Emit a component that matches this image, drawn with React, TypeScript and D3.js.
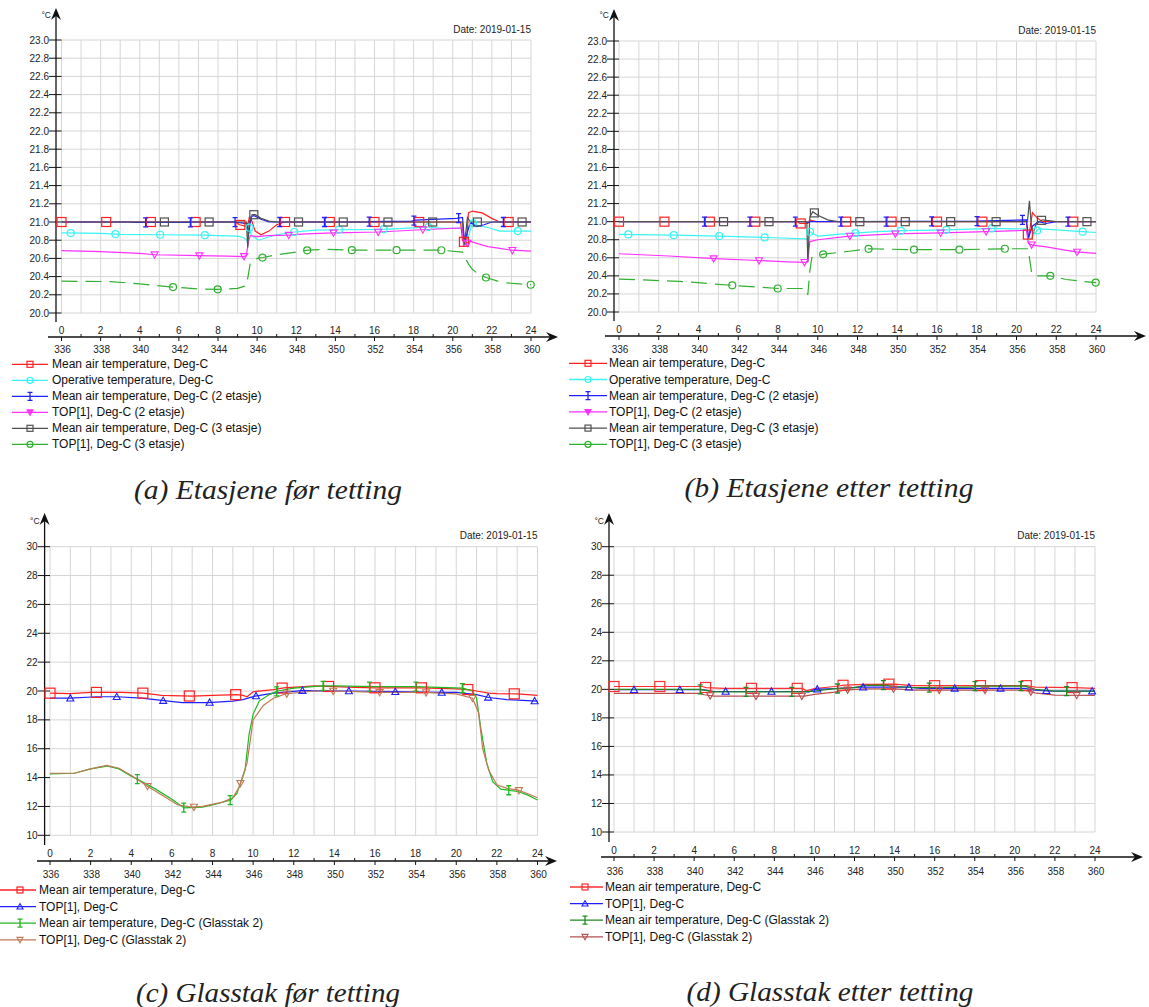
import React from 'react';
import * as d3 from 'd3';

type Pt = [number, number];

// ---------- tick labels ----------
const hourLabels = ['0', '2', '4', '6', '8', '10', '12', '14', '16', '18', '20', '22', '24'];
const absHourLabels = ['336', '338', '340', '342', '344', '346', '348', '350', '352', '354', '356', '358', '360'];
const yTicksAB = ['20.0', '20.2', '20.4', '20.6', '20.8', '21.0', '21.2', '21.4', '21.6', '21.8', '22.0', '22.2', '22.4', '22.6', '22.8', '23.0'];
const yTicksCD = ['10', '12', '14', '16', '18', '20', '22', '24', '26', '28', '30'];
const dateLabel = 'Date: 2019-01-15';

// ---------- panel (a) Etasjene før tetting ----------
const aMeanAir: Pt[] = [[0, 21.0], [8.9, 21.0], [9.1, 20.97], [9.5, 20.95], [9.6, 21.05], [9.7, 21.03], [9.9, 20.9], [10.2, 20.86], [10.6, 20.9], [11.0, 20.97], [11.4, 21.0], [20.4, 21.0], [20.5, 20.8], [20.7, 20.75], [20.8, 21.1], [21.0, 21.12], [21.5, 21.1], [22.0, 21.04], [22.4, 21.0], [24, 21.0]];
const aOperative: Pt[] = [[0, 20.88], [2.0, 20.875], [3.0, 20.865], [5.0, 20.86], [7.3, 20.855], [8.0, 20.85], [9.0, 20.845], [9.3, 20.83], [9.5, 20.79], [9.6, 20.95], [9.7, 20.85], [10.1, 20.8], [10.5, 20.83], [11.0, 20.86], [11.9, 20.89], [13.0, 20.91], [14.2, 20.915], [16.4, 20.92], [17.5, 20.93], [18.7, 20.945], [19.5, 20.93], [20.5, 20.93], [20.6, 20.78], [20.75, 20.8], [21.0, 20.99], [21.3, 20.96], [21.8, 20.94], [22.4, 20.9], [24, 20.9]];
const aMeanAir2: Pt[] = [[0, 21.0], [3.6, 21.0], [3.7, 20.995], [6.6, 20.995], [6.7, 21.0], [8.8, 21.0], [9.2, 20.99], [9.5, 20.98], [9.55, 20.85], [9.7, 21.06], [9.85, 21.07], [10.2, 21.03], [10.6, 21.0], [15.6, 21.0], [15.7, 21.005], [17.9, 21.01], [18.1, 21.02], [20.2, 21.04], [20.5, 21.05], [20.6, 20.78], [20.9, 21.0], [21.2, 20.95], [21.6, 20.97], [22.0, 21.0], [24, 21.0]];
const aTop2: Pt[] = [[0, 20.685], [2.0, 20.675], [4.0, 20.655], [4.8, 20.64], [7.0, 20.63], [8.5, 20.625], [9.3, 20.62], [9.45, 20.63], [9.55, 20.78], [9.65, 20.85], [10.0, 20.84], [10.5, 20.85], [11.6, 20.855], [12.5, 20.87], [13.9, 20.88], [16.2, 20.89], [18.4, 20.915], [20.5, 20.935], [20.55, 20.74], [20.7, 20.76], [20.9, 20.79], [21.3, 20.76], [21.8, 20.73], [22.4, 20.71], [23.0, 20.69], [24, 20.68]];
const aMeanAir3: Pt[] = [[0, 21.0], [9.45, 21.0], [9.52, 20.72], [9.6, 21.0], [9.75, 21.08], [9.9, 21.08], [10.2, 21.04], [10.6, 21.01], [11.0, 21.0], [20.5, 21.0], [20.6, 20.75], [20.75, 21.05], [20.9, 21.0], [24, 21.0]];
const aTop3: Pt[] = [[0, 20.35], [2.5, 20.345], [4.0, 20.32], [5.7, 20.285], [7.0, 20.265], [8.0, 20.26], [9.0, 20.27], [9.45, 20.3], [9.55, 20.42], [9.65, 20.55], [10.0, 20.6], [10.3, 20.61], [11.0, 20.64], [12.0, 20.67], [12.6, 20.69], [13.5, 20.7], [14.8, 20.69], [17.1, 20.69], [19.4, 20.69], [20.5, 20.67], [20.6, 20.62], [20.8, 20.54], [21.0, 20.48], [21.3, 20.43], [21.7, 20.39], [22.3, 20.35], [22.8, 20.33], [24, 20.31]];

// ---------- panel (b) Etasjene etter tetting ----------
const bMeanAir: Pt[] = [[0, 21.0], [9.0, 21.0], [9.1, 20.98], [9.5, 20.98], [9.6, 21.02], [9.9, 21.0], [20.5, 21.0], [20.6, 20.8], [20.7, 20.95], [20.8, 21.1], [21.0, 21.05], [21.3, 21.0], [24, 21.0]];
const bOperative: Pt[] = [[0, 20.86], [2.8, 20.85], [5.0, 20.84], [7.4, 20.825], [9.4, 20.81], [9.5, 20.8], [9.6, 20.89], [9.75, 20.87], [10.0, 20.84], [11.0, 20.86], [12.0, 20.875], [13.0, 20.89], [14.3, 20.9], [16.5, 20.91], [18.8, 20.925], [20.5, 20.92], [20.6, 20.8], [20.75, 20.82], [21.1, 20.92], [22.0, 20.91], [23.3, 20.89], [24, 20.88]];
const bMeanAir2: Pt[] = [[0, 21.0], [9.4, 21.0], [9.5, 20.99], [9.6, 21.0], [11.4, 21.0], [18.0, 21.005], [20.5, 21.02], [20.6, 20.82], [20.8, 20.95], [21.1, 21.0], [21.5, 20.98], [22.0, 21.0], [24, 21.0]];
const bTop2: Pt[] = [[0, 20.645], [2.5, 20.62], [4.8, 20.59], [7.0, 20.57], [8.5, 20.555], [9.4, 20.55], [9.5, 20.56], [9.6, 20.78], [10.0, 20.8], [11.6, 20.84], [13.8, 20.865], [16.2, 20.875], [18.5, 20.89], [20.5, 20.905], [20.6, 20.76], [20.8, 20.74], [21.5, 20.72], [22.3, 20.69], [23.0, 20.665], [24, 20.65]];
const bMeanAir3: Pt[] = [[0, 21.0], [9.45, 21.0], [9.5, 20.55], [9.6, 21.05], [9.75, 21.11], [10.0, 21.07], [10.5, 21.02], [11.0, 21.0], [20.55, 21.0], [20.65, 21.23], [20.75, 20.95], [20.85, 20.88], [21.0, 20.98], [21.3, 21.02], [22.0, 21.0], [24, 21.0]];
const bTop3: Pt[] = [[0, 20.365], [3.0, 20.34], [5.7, 20.295], [8.0, 20.26], [9.4, 20.26], [9.5, 20.19], [9.6, 20.45], [9.7, 20.6], [10.3, 20.64], [11.5, 20.67], [12.6, 20.7], [14.8, 20.69], [17.1, 20.69], [19.4, 20.7], [20.6, 20.7], [20.65, 20.6], [20.75, 20.45], [20.85, 20.4], [21.7, 20.4], [22.5, 20.36], [23.3, 20.34], [24, 20.325]];

// ---------- panel (c) Glasstak før tetting ----------
const cMeanAir: Pt[] = [[0, 19.85], [1.0, 19.82], [2.0, 19.9], [3.5, 19.9], [4.6, 19.85], [5.5, 19.7], [7.0, 19.65], [8.0, 19.7], [9.2, 19.75], [9.5, 19.7], [9.7, 19.6], [10.0, 19.95], [11.0, 20.1], [11.5, 20.22], [12.5, 20.3], [13.0, 20.35], [14.0, 20.3], [15.0, 20.25], [16.0, 20.22], [18.3, 20.22], [20.0, 20.15], [20.6, 20.1], [21.0, 20.0], [21.6, 19.85], [22.0, 19.82], [23.0, 19.8], [24, 19.7]];
const cTop: Pt[] = [[0, 19.5], [1.0, 19.5], [2.3, 19.6], [3.3, 19.6], [4.5, 19.5], [5.5, 19.35], [6.5, 19.2], [7.8, 19.2], [9.0, 19.3], [9.5, 19.4], [10.1, 19.65], [11.0, 19.85], [12.4, 20.03], [14.7, 20.0], [17.0, 19.95], [19.2, 19.9], [20.0, 19.9], [21.0, 19.75], [21.6, 19.55], [22.5, 19.4], [24, 19.3]];
const cMeanAirGlass: Pt[] = [[0, 14.25], [1.2, 14.3], [2.0, 14.6], [2.8, 14.8], [3.4, 14.6], [4.0, 14.1], [4.5, 13.75], [5.2, 13.2], [6.0, 12.5], [6.6, 11.9], [7.5, 11.95], [8.0, 12.1], [8.9, 12.45], [9.2, 12.9], [9.6, 14.5], [9.8, 17.0], [10.0, 18.4], [10.3, 19.3], [10.8, 19.75], [11.2, 20.0], [12.0, 20.2], [13.4, 20.35], [14.0, 20.35], [16.0, 20.3], [18.0, 20.3], [20.3, 20.2], [20.8, 20.0], [21.0, 19.5], [21.2, 17.5], [21.5, 15.0], [21.8, 13.7], [22.2, 13.2], [22.7, 13.1], [23.0, 13.05], [23.5, 12.8], [24, 12.45]];
const cTopGlass: Pt[] = [[0, 14.3], [1.2, 14.3], [2.0, 14.6], [2.8, 14.85], [3.4, 14.65], [4.0, 14.15], [4.8, 13.4], [5.5, 12.8], [6.3, 12.1], [7.0, 11.95], [7.5, 12.0], [8.5, 12.3], [9.0, 12.6], [9.3, 13.3], [9.7, 15.0], [10.0, 18.0], [10.5, 19.0], [11.0, 19.5], [11.6, 19.8], [13.0, 20.0], [14.0, 20.0], [16.1, 19.9], [18.4, 19.9], [20.0, 19.8], [20.8, 19.5], [21.1, 18.5], [21.3, 16.0], [21.6, 14.5], [22.0, 13.5], [22.5, 13.25], [23.0, 13.15], [23.5, 12.9], [24, 12.6]];

// ---------- panel (d) Glasstak etter tetting ----------
const dMeanAir: Pt[] = [[0, 20.2], [4.4, 20.2], [4.6, 20.12], [5.5, 20.07], [9.4, 20.07], [9.6, 19.9], [10.0, 20.05], [11.0, 20.2], [11.5, 20.3], [12.5, 20.35], [14.0, 20.37], [14.6, 20.3], [15.0, 20.26], [20.6, 20.26], [21.0, 20.15], [22.0, 20.14], [23.0, 20.12], [24, 20.07]];
const dTop: Pt[] = [[0, 19.98], [4.4, 19.98], [5.0, 19.85], [9.5, 19.85], [9.7, 19.8], [10.0, 20.0], [11.0, 20.05], [12.3, 20.15], [14.7, 20.15], [15.3, 20.07], [20.5, 20.07], [21.0, 19.95], [21.6, 19.9], [22.0, 19.88], [24, 19.88]];
const dMeanAirGlass: Pt[] = [[0, 20.0], [4.3, 20.0], [4.5, 19.95], [5.0, 19.82], [9.5, 19.82], [10.0, 19.88], [11.0, 20.05], [12.0, 20.12], [12.5, 20.28], [13.5, 20.3], [14.0, 20.2], [15.0, 20.12], [17.9, 20.15], [18.0, 20.23], [20.5, 20.23], [21.0, 20.0], [22.0, 19.88], [24, 19.88]];
const dTopGlass: Pt[] = [[0, 19.72], [4.3, 19.72], [4.5, 19.62], [5.0, 19.53], [9.5, 19.53], [10.0, 19.65], [11.0, 19.8], [11.5, 19.95], [12.5, 20.03], [14.0, 20.03], [15.0, 19.95], [20.5, 19.95], [21.0, 19.75], [22.0, 19.6], [24, 19.58]];

// ---------- legend labels ----------
const legendAB = ['Mean air temperature, Deg-C', 'Operative temperature, Deg-C', 'Mean air temperature, Deg-C (2 etasje)', 'TOP[1], Deg-C (2 etasje)', 'Mean air temperature, Deg-C (3 etasje)', 'TOP[1], Deg-C (3 etasje)'];
const legendCD = ['Mean air temperature, Deg-C', 'TOP[1], Deg-C', 'Mean air temperature, Deg-C (Glasstak 2)', 'TOP[1], Deg-C (Glasstak 2)'];
const captions = ['(a) Etasjene før tetting', '(b) Etasjene etter tetting', '(c) Glasstak før tetting', '(d) Glasstak etter tetting'];

const FONT = "'Liberation Sans', Arial, Helvetica, sans-serif";
const MARK_STEP = 24 / 10.5;

type MarkerType = 'square' | 'circle' | 'ibar' | 'triDown' | 'triUp';
type Series = { data: Pt[]; color: string; marker: MarkerType; offset: number; size: number; dashed?: boolean; legendFill?: boolean };

const styleAB = [
  { color: '#ff2020', marker: 'square' as MarkerType, offset: 0, size: 9 },
  { color: '#38f4f4', marker: 'circle' as MarkerType, offset: 0.47, size: 7 },
  { color: '#2020ff', marker: 'ibar' as MarkerType, offset: 4.3, size: 9 },
  { color: '#ff30ff', marker: 'triDown' as MarkerType, offset: 4.76, size: 7, legendFill: true },
  { color: '#505050', marker: 'square' as MarkerType, offset: 5.26, size: 8 },
  { color: '#30b030', marker: 'circle' as MarkerType, offset: 5.7, size: 7, dashed: true },
];
const styleC = [
  { color: '#ff2020', marker: 'square' as MarkerType, offset: 0, size: 10 },
  { color: '#2020ff', marker: 'triUp' as MarkerType, offset: 1.0, size: 7 },
  { color: '#20b820', marker: 'ibar' as MarkerType, offset: 4.3, size: 9 },
  { color: '#c07a55', marker: 'triDown' as MarkerType, offset: 4.8, size: 7 },
];
const styleD = [
  { color: '#ff3030', marker: 'square' as MarkerType, offset: 0, size: 10 },
  { color: '#2020ff', marker: 'triUp' as MarkerType, offset: 1.0, size: 7 },
  { color: '#208a20', marker: 'ibar' as MarkerType, offset: 4.3, size: 9 },
  { color: '#b85050', marker: 'triDown' as MarkerType, offset: 4.8, size: 7 },
];

function valueAt(data: Pt[], h: number): number {
  const i = d3.bisector((d: Pt) => d[0]).right(data, h);
  if (i <= 0) return data[0][1];
  if (i >= data.length) return data[data.length - 1][1];
  const [x0, y0] = data[i - 1];
  const [x1, y1] = data[i];
  return y0 + ((y1 - y0) * (h - x0)) / (x1 - x0);
}

function Marker({ type, x, y, color, size, fill }: { type: MarkerType; x: number; y: number; color: string; size: number; fill?: boolean }) {
  const s = size / 2;
  const f = fill ? color : 'none';
  switch (type) {
    case 'square':
      return <rect x={x - s} y={y - s} width={size} height={size} fill="none" stroke={color} strokeWidth={1.2} />;
    case 'circle':
      return <circle cx={x} cy={y} r={s} fill="none" stroke={color} strokeWidth={1.2} />;
    case 'ibar':
      return <path d={`M${x},${y - s}V${y + s}M${x - 2.5},${y - s}H${x + 2.5}M${x - 2.5},${y + s}H${x + 2.5}`} fill="none" stroke={color} strokeWidth={1.3} />;
    case 'triDown':
      return <path d={`M${x - s},${y - s * 0.8}L${x + s},${y - s * 0.8}L${x},${y + s}Z`} fill={f} stroke={color} strokeWidth={1.1} />;
    case 'triUp':
      return <path d={`M${x - s},${y + s * 0.8}L${x + s},${y + s * 0.8}L${x},${y - s}Z`} fill={f} stroke={color} strokeWidth={1.1} />;
  }
  return null;
}

type Layout = {
  axisX: number; x0: number; x1: number; yTop: number; yBot: number; yMin: number; yMax: number; yLabels: string[];
  arrowTipY: number; axisEnd: number; xLabelY: number; xAxisY: number; x2LabelY: number; xAxisStart: number; xAxisEnd: number;
  dateY: number; degY: number;
  legX0: number; legX1: number; legMark: number; legText: number; legY0: number; legDy: number;
  capX: number; capY: number; capW: number; caption: string;
  series: Series[]; legend: string[];
};

function Panel({ L }: { L: Layout }) {
  const x = d3.scaleLinear().domain([0, 24]).range([L.x0, L.x1]);
  const y = d3.scaleLinear().domain([L.yMin, L.yMax]).range([L.yBot, L.yTop]);
  const line = d3.line<Pt>().x((d) => x(d[0])).y((d) => y(d[1]));
  const hours = d3.range(0, 25);
  const yVals = L.yLabels.map((t) => +t);
  return (
    <g>
      {/* grid */}
      {hours.map((h) => (
        <line key={'v' + h} x1={x(h)} x2={x(h)} y1={L.yTop} y2={L.yBot} stroke="#d6d6d6" strokeWidth={1} />
      ))}
      {yVals.map((v) => (
        <line key={'h' + v} x1={L.x0} x2={L.x1} y1={y(v)} y2={y(v)} stroke="#d6d6d6" strokeWidth={1} />
      ))}
      {/* y axis */}
      <line x1={L.axisX} x2={L.axisX} y1={L.arrowTipY + 4} y2={L.axisEnd} stroke="#111" strokeWidth={1.3} />
      <path d={`M${L.axisX},${L.arrowTipY}L${L.axisX - 5},${L.arrowTipY + 12}L${L.axisX},${L.arrowTipY + 8}L${L.axisX + 5},${L.arrowTipY + 12}Z`} fill="#111" />
      {L.yLabels.map((t, i) => (
        <g key={'yt' + t}>
          <line x1={L.axisX - 7} x2={L.x0} y1={y(yVals[i])} y2={y(yVals[i])} stroke="#111" strokeWidth={1} />
          <text x={L.axisX - 7} y={y(yVals[i])} textAnchor="end" dominantBaseline="central" fontSize={10} fontFamily={FONT} fill="#222">{t}</text>
        </g>
      ))}
      <text x={L.axisX - 5} y={L.degY} textAnchor="end" dominantBaseline="central" fontSize={8.5} fontFamily={FONT} fill="#222">°C</text>
      <text x={L.x1} y={L.dateY} textAnchor="end" dominantBaseline="central" fontSize={10} fontFamily={FONT} fill="#222">{dateLabel}</text>
      {/* x axis */}
      <line x1={L.xAxisStart} x2={L.xAxisEnd - 4} y1={L.xAxisY} y2={L.xAxisY} stroke="#111" strokeWidth={1.3} />
      <path d={`M${L.xAxisEnd},${L.xAxisY}L${L.xAxisEnd - 12},${L.xAxisY - 5}L${L.xAxisEnd - 8},${L.xAxisY}L${L.xAxisEnd - 12},${L.xAxisY + 5}Z`} fill="#111" />
      {hours.map((h) => (
        <line key={'xt' + h} x1={x(h)} x2={x(h)} y1={h % 2 === 0 ? L.xAxisY : L.xAxisY - 3} y2={h % 2 === 0 ? L.xAxisY + 4 : L.xAxisY} stroke="#111" strokeWidth={1} />
      ))}
      {hourLabels.map((t, i) => (
        <text key={'xl' + t} x={x(i * 2)} y={L.xLabelY} textAnchor="middle" dominantBaseline="central" fontSize={10} fontFamily={FONT} fill="#222">{t}</text>
      ))}
      {absHourLabels.map((t, i) => (
        <text key={'xa' + t} x={x(i * 2) + 1} y={L.x2LabelY} textAnchor="middle" dominantBaseline="central" fontSize={10} fontFamily={FONT} fill="#222">{t}</text>
      ))}
      {/* series lines */}
      {L.series.map((s, i) => (
        <path key={'s' + i} d={line(s.data) || ''} fill="none" stroke={s.color} strokeWidth={1.2} strokeDasharray={s.dashed ? '16,8' : undefined} />
      ))}
      {/* markers */}
      {L.series.map((s, i) =>
        d3.range(s.offset, 24.05, MARK_STEP).map((h, j) => (
          <Marker key={'m' + i + '_' + j} type={s.marker} x={x(Math.min(h, 24))} y={y(valueAt(s.data, Math.min(h, 24)))} color={s.color} size={s.size} />
        ))
      )}
      {/* legend */}
      {L.legend.map((t, i) => {
        const s = L.series[i];
        const ly = L.legY0 + i * L.legDy;
        return (
          <g key={'lg' + i}>
            <line x1={L.legX0} x2={L.legX1} y1={ly} y2={ly} stroke={s.color} strokeWidth={1.3} />
            <Marker type={s.marker} x={L.legMark} y={ly} color={s.color} size={s.marker === 'ibar' ? 8 : 6} fill={s.legendFill} />
            <text x={L.legText} y={ly} dominantBaseline="central" fontSize={12} fontFamily={FONT} fill="#111">{t}</text>
          </g>
        );
      })}
      {/* caption */}
      <text x={L.capX} y={L.capY} textAnchor="middle" dominantBaseline="central" fontSize={27} fontStyle="italic" fontFamily="'Liberation Serif', 'DejaVu Serif', serif" fill="#222" textLength={L.capW} lengthAdjust="spacingAndGlyphs">{L.caption}</text>
    </g>
  );
}

function mk(style: typeof styleAB, datas: Pt[][]): Series[] {
  return style.map((st, i) => ({ ...st, data: datas[i] }));
}

export default function App() {
  const panels: Layout[] = [
    {
      axisX: 56, x0: 61.5, x1: 531, yTop: 40, yBot: 313, yMin: 20, yMax: 23, yLabels: yTicksAB,
      arrowTipY: 8, axisEnd: 322, xLabelY: 330, xAxisY: 337, x2LabelY: 349, xAxisStart: 48, xAxisEnd: 558,
      dateY: 29, degY: 15,
      legX0: 12, legX1: 48, legMark: 30, legText: 52, legY0: 364.3, legDy: 16,
      capX: 268, capY: 490, capW: 268, caption: captions[0],
      series: mk(styleAB, [aMeanAir, aOperative, aMeanAir2, aTop2, aMeanAir3, aTop3]), legend: legendAB,
    },
    {
      axisX: 614, x0: 619, x1: 1096, yTop: 41, yBot: 312, yMin: 20, yMax: 23, yLabels: yTicksAB,
      arrowTipY: 9, axisEnd: 321, xLabelY: 329, xAxisY: 336, x2LabelY: 349, xAxisStart: 605, xAxisEnd: 1146,
      dateY: 30, degY: 15,
      legX0: 569, legX1: 607, legMark: 588, legText: 609, legY0: 363.3, legDy: 16.2,
      capX: 829, capY: 488, capW: 289, caption: captions[1],
      series: mk(styleAB, [bMeanAir, bOperative, bMeanAir2, bTop2, bMeanAir3, bTop3]), legend: legendAB,
    },
    {
      axisX: 44.6, x0: 50, x1: 537.5, yTop: 546.7, yBot: 835.3, yMin: 10, yMax: 30, yLabels: yTicksCD,
      arrowTipY: 513, axisEnd: 845, xLabelY: 853, xAxisY: 861, x2LabelY: 874, xAxisStart: 37, xAxisEnd: 557,
      dateY: 535, degY: 521,
      legX0: 0, legX1: 36, legMark: 20, legText: 39, legY0: 890, legDy: 16.6,
      capX: 268, capY: 993, capW: 264, caption: captions[2],
      series: mk(styleC, [cMeanAir, cTop, cMeanAirGlass, cTopGlass]), legend: legendCD,
    },
    {
      axisX: 609, x0: 614, x1: 1095, yTop: 546.7, yBot: 832, yMin: 10, yMax: 30, yLabels: yTicksCD,
      arrowTipY: 513, axisEnd: 842, xLabelY: 850, xAxisY: 857, x2LabelY: 871, xAxisStart: 601, xAxisEnd: 1143,
      dateY: 535, degY: 521,
      legX0: 570, legX1: 603, legMark: 585, legText: 605, legY0: 887, legDy: 16.6,
      capX: 830, capY: 992, capW: 287, caption: captions[3],
      series: mk(styleD, [dMeanAir, dTop, dMeanAirGlass, dTopGlass]), legend: legendCD,
    },
  ];
  return (
    <svg width={1149} height={1007} style={{ position: 'absolute', left: 0, top: 0, background: '#fff' }}>
      <rect x={0} y={0} width={1149} height={1007} fill="#fff" />
      {panels.map((L, i) => (
        <Panel key={i} L={L} />
      ))}
    </svg>
  );
}
